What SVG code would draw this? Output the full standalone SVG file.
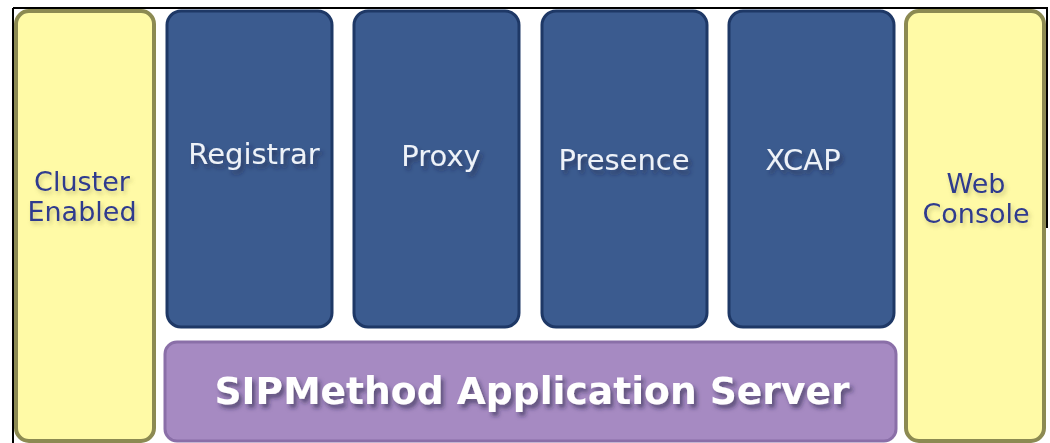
<svg xmlns="http://www.w3.org/2000/svg" width="1050" height="443" viewBox="0 0 1050 443">
  <defs>
    <style>
      .yel{fill:#fffaa6;stroke:#8c8a52;stroke-width:4}
      .blu{fill:#3b5b8f;stroke:#1e3866;stroke-width:3}
      .pur{fill:#a68ac2;stroke:#8a6fa8;stroke-width:3}
      .ylab{font-family:"DejaVu Sans",Verdana,sans-serif;font-size:27px;fill:#2f3a8e;text-anchor:middle}
      .blab{font-family:"DejaVu Sans",Verdana,sans-serif;font-size:29px;fill:#eef2f8;text-anchor:middle}
      .plab{font-family:"DejaVu Sans",Verdana,sans-serif;font-size:37px;font-weight:bold;fill:#ffffff;text-anchor:middle}
    </style>
    <filter id="sh" x="-10%" y="-30%" width="130%" height="180%">
      <feDropShadow dx="3" dy="4" stdDeviation="2" flood-color="#1a1a40" flood-opacity="0.55"/>
    </filter>
    <filter id="shl" x="-10%" y="-30%" width="130%" height="180%">
      <feDropShadow dx="2" dy="3" stdDeviation="2" flood-color="#6a6a30" flood-opacity="0.35"/>
    </filter>
  </defs>
  <rect x="0" y="0" width="1050" height="443" fill="#ffffff"/>
  <g id="frame" fill="none" stroke="#000" stroke-width="2">
    <line x1="13" y1="8" x2="1048" y2="8"/>
    <line x1="13" y1="8" x2="13" y2="443"/>
    <line x1="1047" y1="8" x2="1047" y2="228"/>
  </g>
  <g id="cluster">
    <rect class="yel" x="16" y="11" width="138" height="430" rx="13"/>
    <text class="ylab" x="82" y="191" filter="url(#shl)">Cluster</text>
    <text class="ylab" x="82" y="221" filter="url(#shl)">Enabled</text>
  </g>
  <g id="registrar">
    <rect class="blu" x="167" y="11" width="165" height="316" rx="14"/>
    <text class="blab" x="254" y="164" filter="url(#sh)">Registrar</text>
  </g>
  <g id="proxy">
    <rect class="blu" x="354" y="11" width="165" height="316" rx="14"/>
    <text class="blab" x="441" y="166" filter="url(#sh)">Proxy</text>
  </g>
  <g id="presence">
    <rect class="blu" x="542" y="11" width="165" height="316" rx="14"/>
    <text class="blab" x="624" y="170" filter="url(#sh)">Presence</text>
  </g>
  <g id="xcap">
    <rect class="blu" x="729" y="11" width="165" height="316" rx="14"/>
    <text class="blab" x="803" y="170" filter="url(#sh)">XCAP</text>
  </g>
  <g id="server">
    <rect class="pur" x="165" y="342" width="731" height="99" rx="12"/>
    <text class="plab" x="532" y="404" textLength="635" lengthAdjust="spacingAndGlyphs" filter="url(#sh)">SIPMethod Application Server</text>
  </g>
  <g id="webconsole">
    <rect class="yel" x="906" y="11" width="138" height="430" rx="13"/>
    <text class="ylab" x="976" y="193" filter="url(#shl)">Web</text>
    <text class="ylab" x="976" y="223" filter="url(#shl)">Console</text>
  </g>
  <g id="connectors"/>
</svg>
